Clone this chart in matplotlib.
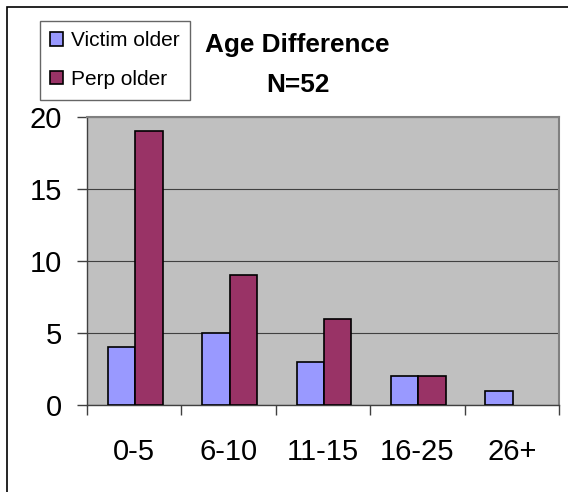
import numpy as np
import matplotlib.pyplot as plt
from matplotlib.patches import Rectangle

categories = ["0-5", "6-10", "11-15", "16-25", "26+"]
victim_older = [4, 5, 3, 2, 1]
perp_older = [19, 9, 6, 2, 0]

plt.rcParams['font.family'] = ['Liberation Sans', 'DejaVu Sans']

fig = plt.figure(figsize=(5.68, 4.92), dpi=100)
ax = fig.add_axes([87/568, 1-405/492, (559-87)/568, (405-117)/492])

# figure border (right/bottom edges run off the image)
fig.patches.append(Rectangle((7/568, -0.05), 1.2, 1-7/492+0.05, transform=fig.transFigure,
                             fill=False, edgecolor='black', linewidth=1.2))

x = np.arange(len(categories))
w = 0.29
ax.bar(x - w/2 + 0.01, victim_older, w, color='#9999FF', edgecolor='black', linewidth=1.2,
       label='Victim older', zorder=3)
bars = ax.bar(x + w/2 + 0.01, perp_older, w, color='#993366', edgecolor='black', linewidth=1.2,
              label='Perp older', zorder=3)
for b, v in zip(bars, perp_older):
    if v == 0:
        b.set_visible(False)

ax.set_facecolor('#C0C0C0')
ax.set_xlim(-0.5, len(categories) - 0.5)
ax.set_ylim(0, 20)
ax.set_yticks([0, 5, 10, 15, 20])
ax.yaxis.grid(True, color='#404040', linewidth=0.8, zorder=1)
ax.set_axisbelow(True)

ax.set_xticks(x)
ax.set_xticklabels(categories)
ax.set_xticks(np.arange(-0.5, len(categories)), minor=True)
ax.tick_params(axis='x', which='major', length=0, pad=24, labelsize=21)
ax.tick_params(axis='x', which='minor', length=7, width=1, color='#404040', direction='out')
ax.tick_params(axis='y', length=7, width=1, color='#404040', pad=11, labelsize=21)

for s in ['top', 'right']:
    ax.spines[s].set_color('#808080')
    ax.spines[s].set_linewidth(1.5)
for s in ['left', 'bottom']:
    ax.spines[s].set_color('#404040')
    ax.spines[s].set_linewidth(1)

leg = fig.legend(loc='upper left', bbox_to_anchor=(40/568, 1-21/492), fontsize=15,
                 frameon=True, fancybox=False, edgecolor='#404040', handlelength=0.6,
                 handleheight=0.6, handletextpad=0.4, borderpad=0.5, labelspacing=0.95,
                 borderaxespad=0)
leg.get_frame().set_linewidth(1)

fig.text(297/568, 1-45/492, "Age Difference", ha='center', va='center',
         fontsize=18.8, fontweight='bold')
fig.text(298/568, 1-85/492, "N=52", ha='center', va='center',
         fontsize=18.8, fontweight='bold')

fig.savefig('out.png', dpi=100)
